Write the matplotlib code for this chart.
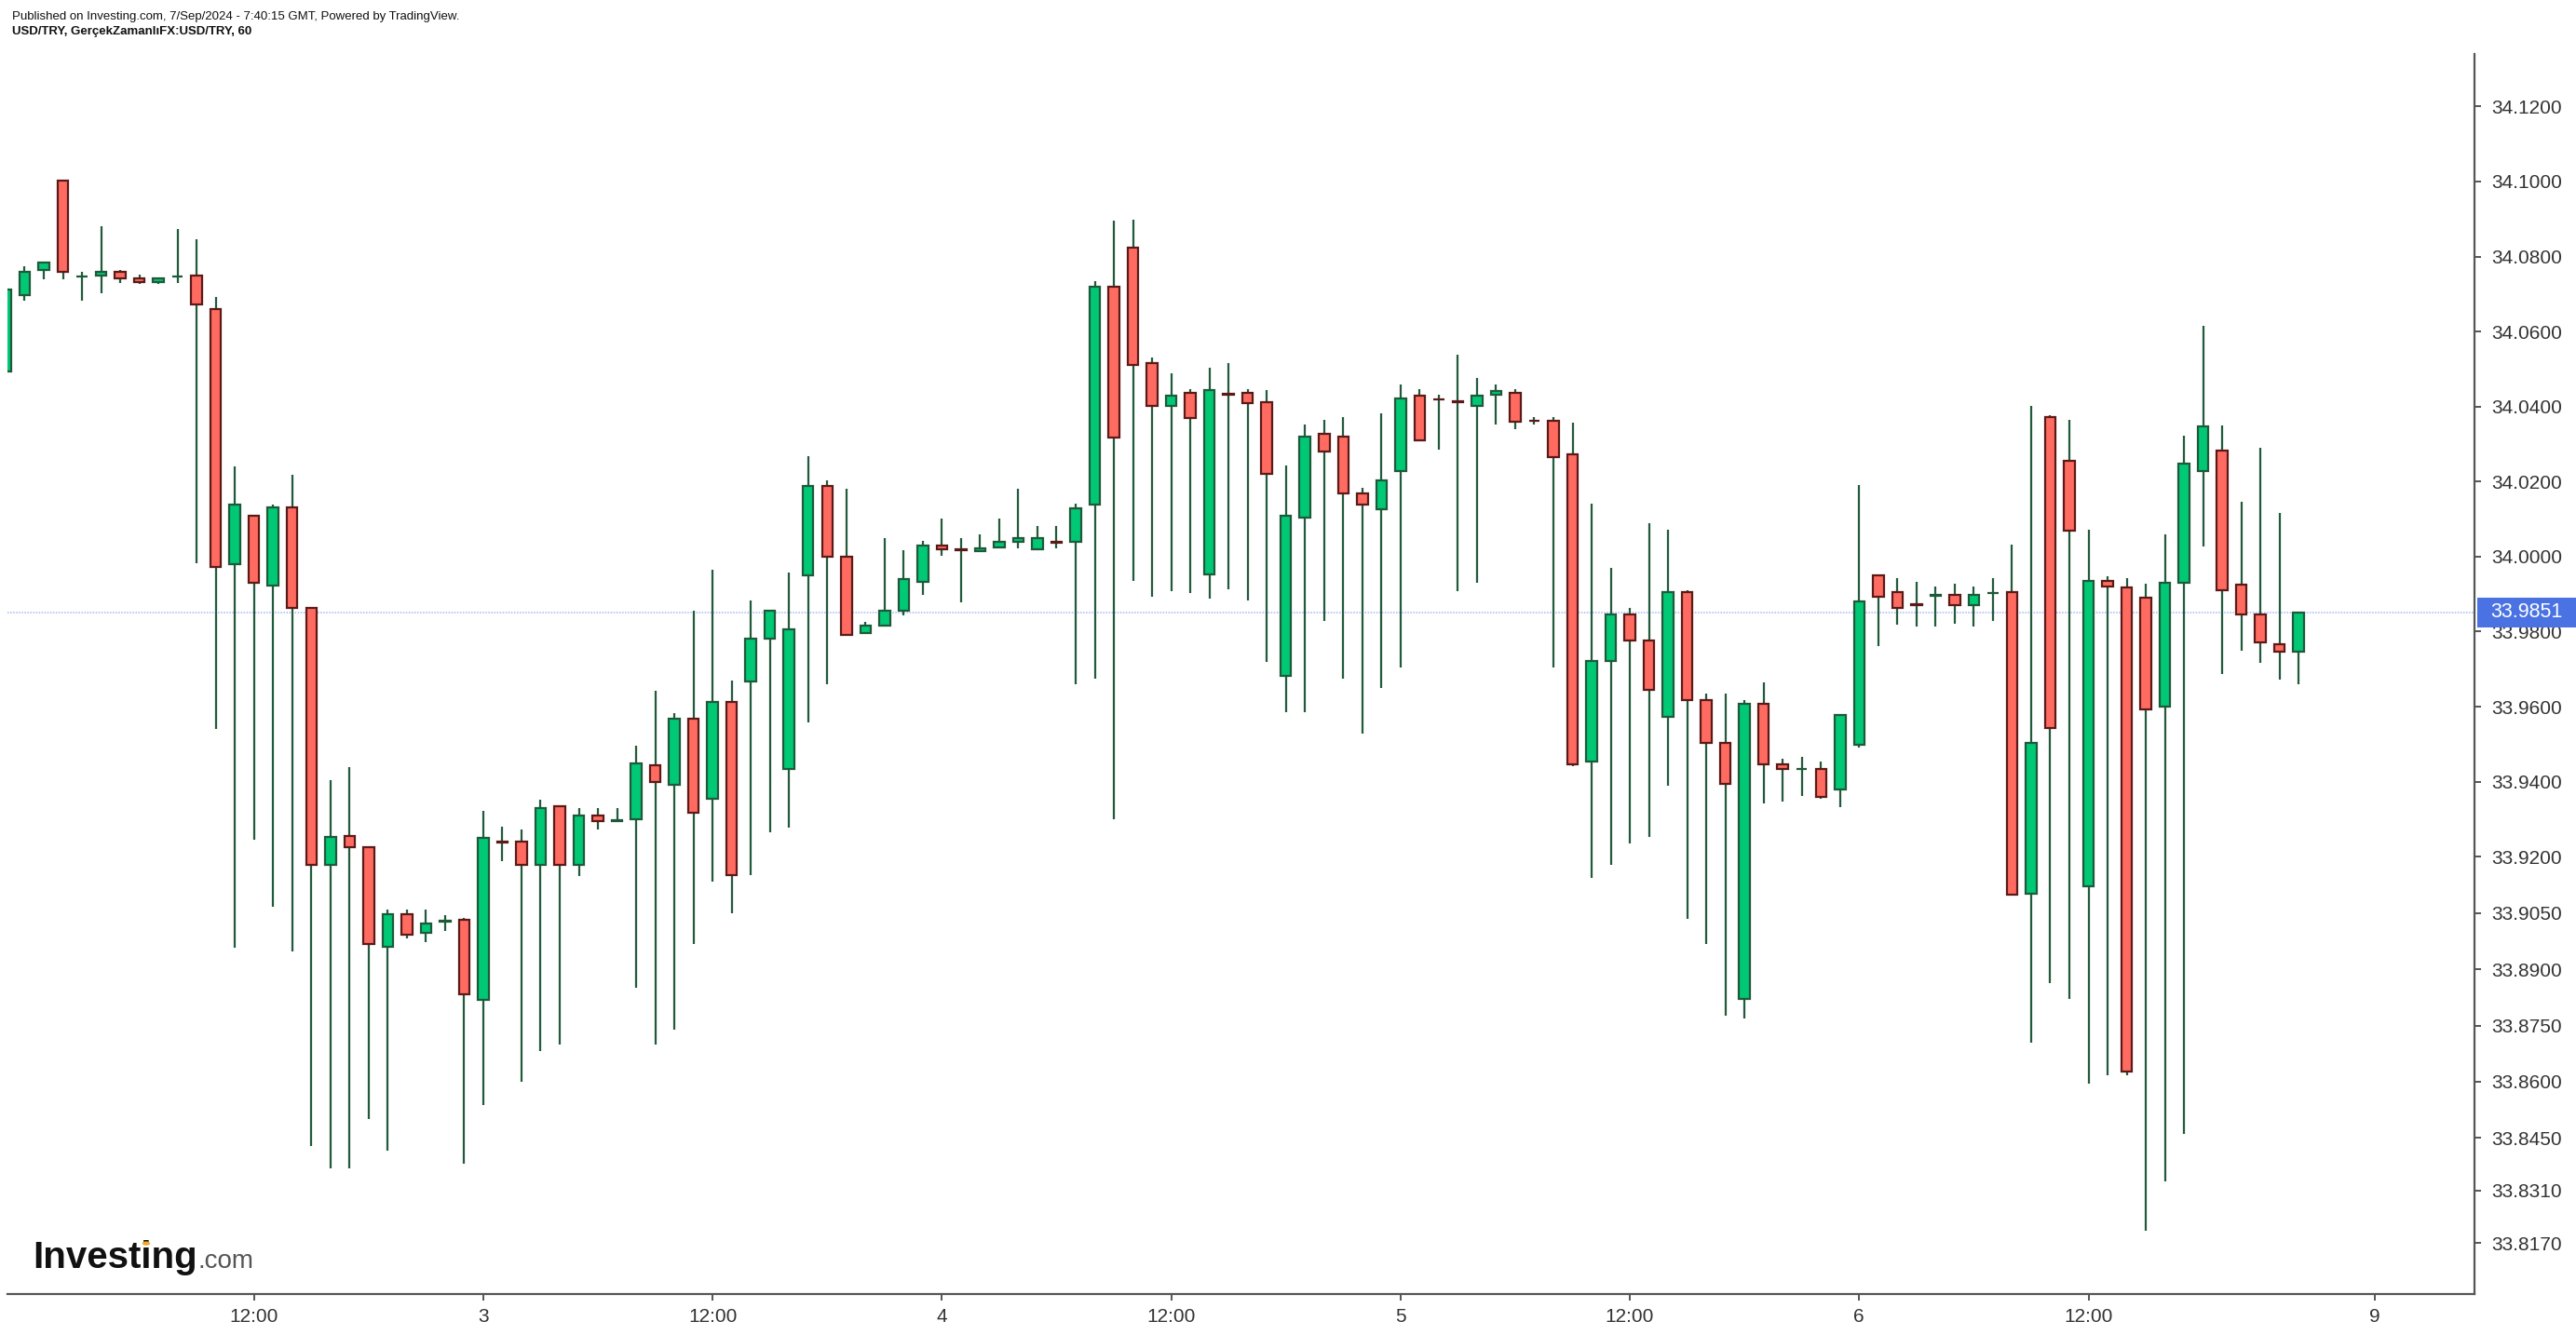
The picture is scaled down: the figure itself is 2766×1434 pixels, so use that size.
import matplotlib
matplotlib.use("Agg")
import matplotlib.pyplot as plt
import matplotlib.transforms as mtransforms
from matplotlib.patches import Circle, Rectangle

# hourly USD/TRY candles, Sep 1 23:00 .. Sep 6 23:00 (bar index = position)
opens = [34.0493, 34.0697, 34.0764, 34.1002, 34.0746, 34.0749, 34.0758, 34.0743, 34.0732, 34.0746,
         34.0749, 34.0660, 33.9979, 34.0108, 33.9923, 34.0132, 33.9864, 33.9179, 33.9255, 33.9225,
         33.8961, 33.9046, 33.8998, 33.9028, 33.9031, 33.8818, 33.9241, 33.9240, 33.9179, 33.9335,
         33.9179, 33.9310, 33.9296, 33.9299, 33.9444, 33.9392, 33.9568, 33.9355, 33.9612, 33.9666,
         33.9781, 33.9434, 33.9951, 34.0188, 33.9999, 33.9797, 33.9816, 33.9855, 33.9932, 34.0029,
         34.0020, 34.0014, 34.0025, 34.0040, 34.0019, 34.0040, 34.0040, 34.0138, 34.0719, 34.0823,
         34.0516, 34.0403, 34.0436, 33.9953, 34.0435, 34.0436, 34.0412, 33.9681, 34.0103, 34.0327,
         34.0321, 34.0168, 34.0127, 34.0227, 34.0430, 34.0420, 34.0414, 34.0403, 34.0432, 34.0436,
         34.0363, 34.0362, 34.0273, 33.9453, 33.9721, 33.9845, 33.9777, 33.9573, 33.9905, 33.9618,
         33.9503, 33.8822, 33.9607, 33.9447, 33.9433, 33.9434, 33.9379, 33.9499, 33.9949, 33.9905,
         33.9872, 33.9896, 33.9899, 33.9871, 33.9902, 33.9905, 33.9101, 34.0371, 34.0256, 33.9120,
         33.9934, 33.9919, 33.9890, 33.9601, 33.9931, 34.0227, 34.0282, 33.9925, 33.9845, 33.9766,
         33.9747]
highs = [34.0712, 34.0775, 34.0784, 34.1002, 34.0758, 34.0882, 34.0765, 34.0753, 34.0743, 34.0873,
         34.0845, 34.0693, 34.0240, 34.0108, 34.0138, 34.0219, 33.9864, 33.9405, 33.9438, 33.9225,
         33.9059, 33.9059, 33.9059, 33.9044, 33.9037, 33.9322, 33.9281, 33.9272, 33.9351, 33.9335,
         33.9329, 33.9329, 33.9329, 33.9497, 33.9642, 33.9583, 33.9855, 33.9966, 33.9670, 33.9882,
         33.9855, 33.9957, 34.0269, 34.0203, 34.0181, 33.9827, 34.0049, 34.0016, 34.0042, 34.0101,
         34.0049, 34.0060, 34.0101, 34.0181, 34.0081, 34.0081, 34.0140, 34.0734, 34.0895, 34.0899,
         34.0530, 34.0488, 34.0447, 34.0503, 34.0517, 34.0447, 34.0443, 34.0243, 34.0353, 34.0364,
         34.0373, 34.0184, 34.0382, 34.0458, 34.0447, 34.0432, 34.0538, 34.0477, 34.0458, 34.0447,
         34.0373, 34.0373, 34.0358, 34.0140, 33.9971, 33.9862, 34.0090, 34.0071, 33.9910, 33.9636,
         33.9636, 33.9618, 33.9664, 33.9460, 33.9466, 33.9453, 33.9577, 34.0190, 33.9949, 33.9942,
         33.9932, 33.9921, 33.9927, 33.9921, 33.9942, 34.0031, 34.0403, 34.0377, 34.0364, 34.0071,
         33.9947, 33.9942, 33.9927, 34.0060, 34.0323, 34.0616, 34.0349, 34.0145, 34.0290, 34.0116,
         33.9851]
lows = [34.0493, 34.0682, 34.0740, 34.0740, 34.0682, 34.0703, 34.0730, 34.0727, 34.0727, 34.0730,
        33.9982, 33.9540, 33.8957, 33.9244, 33.9066, 33.8948, 33.8429, 33.8368, 33.8370, 33.8500,
        33.8415, 33.8981, 33.8972, 33.9001, 33.8381, 33.8537, 33.9188, 33.8600, 33.8683, 33.8698,
        33.9149, 33.9273, 33.9296, 33.8851, 33.8698, 33.8740, 33.8966, 33.9133, 33.9049, 33.9151,
        33.9266, 33.9277, 33.9559, 33.9660, 33.9792, 33.9797, 33.9816, 33.9844, 33.9899, 34.0003,
        33.9879, 34.0014, 34.0025, 34.0021, 34.0019, 34.0023, 33.9660, 33.9675, 33.9299, 33.9934,
        33.9894, 33.9908, 33.9903, 33.9888, 33.9914, 33.9884, 33.9720, 33.9584, 33.9584, 33.9829,
        33.9675, 33.9527, 33.9651, 33.9705, 34.0310, 34.0286, 33.9908, 33.9929, 34.0351, 34.0340,
        34.0351, 33.9705, 33.9442, 33.9144, 33.9179, 33.9235, 33.9253, 33.9388, 33.9035, 33.8966,
        33.8777, 33.8768, 33.9342, 33.9347, 33.9362, 33.9355, 33.9333, 33.9492, 33.9762, 33.9818,
        33.9814, 33.9814, 33.9820, 33.9814, 33.9829, 33.9098, 33.8703, 33.8862, 33.8822, 33.8594,
        33.8618, 33.8618, 33.8202, 33.8335, 33.8461, 34.0027, 33.9688, 33.9749, 33.9716, 33.9673,
        33.9660]
closes = [34.0712, 34.0758, 34.0784, 34.0758, 34.0748, 34.0758, 34.0742, 34.0732, 34.0743, 34.0748,
          34.0673, 33.9973, 34.0138, 33.9931, 34.0132, 33.9864, 33.9179, 33.9253, 33.9225, 33.8966,
          33.9046, 33.8992, 33.9022, 33.9030, 33.8833, 33.9249, 33.9239, 33.9179, 33.9329, 33.9179,
          33.9310, 33.9296, 33.9298, 33.9449, 33.9399, 33.9568, 33.9318, 33.9612, 33.9151, 33.9781,
          33.9855, 33.9807, 34.0188, 33.9999, 33.9792, 33.9816, 33.9855, 33.9940, 34.0029, 34.0019,
          34.0018, 34.0023, 34.0040, 34.0049, 34.0049, 34.0038, 34.0129, 34.0719, 34.0317, 34.0510,
          34.0403, 34.0430, 34.0369, 34.0445, 34.0432, 34.0410, 34.0221, 34.0108, 34.0321, 34.0280,
          34.0168, 34.0138, 34.0203, 34.0421, 34.0310, 34.0418, 34.0412, 34.0430, 34.0442, 34.0360,
          34.0361, 34.0266, 33.9447, 33.9721, 33.9845, 33.9777, 33.9646, 33.9905, 33.9618, 33.9503,
          33.9394, 33.9607, 33.9447, 33.9434, 33.9435, 33.9360, 33.9577, 33.9881, 33.9894, 33.9864,
          33.9870, 33.9898, 33.9870, 33.9899, 33.9904, 33.9098, 33.9503, 33.9544, 34.0068, 33.9934,
          33.9921, 33.8626, 33.9592, 33.9931, 34.0247, 34.0347, 33.9910, 33.9845, 33.9771, 33.9747,
          33.9851]

last_price = 33.9851
x_tick_pos = [13, 25, 37, 49, 61, 73, 85, 97, 109, 124]
x_tick_lab = ["12:00", "3", "12:00", "4", "12:00", "5", "12:00", "6", "12:00", "9"]
y_ticks = [34.12, 34.10, 34.08, 34.06, 34.04, 34.02, 34.00, 33.98, 33.96, 33.94,
           33.92, 33.905, 33.89, 33.875, 33.86, 33.845, 33.831, 33.817]

UP, DOWN = "#00c875", "#ff6b61"
UP_EDGE, DOWN_EDGE = "#1e5a3a", "#5b1a17"
WICK = "#225a3c"
TXT = "#333333"

W, H = 2766, 1434
fig = plt.figure(figsize=(W / 100, H / 100), dpi=100)
ax = fig.add_axes([8 / W, 1 - 1390 / H, (2657 - 8) / W, (1390 - 58) / H])

xs = list(range(len(opens)))
ax.vlines(xs, lows, highs, color=WICK, lw=1.6, zorder=2)
bottoms = [min(o, c) for o, c in zip(opens, closes)]
heights = [max(abs(c - o), 0.00005) for o, c in zip(opens, closes)]
fills = [UP if c >= o else DOWN for o, c in zip(opens, closes)]
edges = [UP_EDGE if c >= o else DOWN_EDGE for o, c in zip(opens, closes)]
ax.bar(xs, heights, bottom=bottoms, width=0.56, color=fills, edgecolor=edges, linewidth=1.6, zorder=3)

ax.set_xlim(0.1, 129.2)
ax.set_ylim(33.8034, 34.1340)

# last price line + label box on the price scale
ax.axhline(last_price, color="#a4b8f4", lw=1.1, ls=(0, (1, 1)), zorder=1)
trans = mtransforms.blended_transform_factory(ax.transAxes, ax.transData)
box_w = (W - 2659) / (2657 - 8)
box_h = 0.0040
ax.add_patch(Rectangle((1.001, last_price - box_h), box_w, 2 * box_h, transform=trans,
                       fc="#4a72e3", ec="none", clip_on=False, zorder=6))
ax.text(1.001 + box_w / 2, last_price, "33.9851", transform=trans, ha="center", va="center",
        color="white", fontsize=15.5, family="Liberation Sans", zorder=7, clip_on=False)

for s in ("top", "left"):
    ax.spines[s].set_visible(False)
for s in ("right", "bottom"):
    ax.spines[s].set_color("#555555")
    ax.spines[s].set_linewidth(1.6)

ax.yaxis.tick_right()
ax.set_yticks(y_ticks)
ax.set_yticklabels([f"{v:.4f}" for v in y_ticks])
ax.set_xticks(x_tick_pos)
ax.set_xticklabels(x_tick_lab)
ax.tick_params(axis="both", colors="#555555", labelcolor=TXT, labelsize=15, length=5, width=1.4)
ax.tick_params(axis="y", pad=8)
ax.tick_params(axis="x", pad=6)
for lab in ax.get_xticklabels() + ax.get_yticklabels():
    lab.set_family("Liberation Sans")

# header
fig.text(13 / W, 1 - 18 / H, "Published on Investing.com, 7/Sep/2024 - 7:40:15 GMT, Powered by TradingView.",
         fontsize=9.5, family=["Liberation Sans Narrow", "Liberation Sans"], color="#111111", va="center")
fig.text(13 / W, 1 - 34 / H, "USD/TRY, GerçekZamanlıFX:USD/TRY, 60",
         fontsize=9.5, family=["Liberation Sans Narrow", "Liberation Sans"], weight="bold",
         color="#111111", va="center")

# logo: "Investing" bold + ".com" grey, orange dot on the second i
logo_kw = dict(fontsize=29, weight="bold", family="Liberation Sans", va="baseline")
x0, base = 35 / W, 1 - 1362 / H
logo = fig.text(x0, base, "Investing", color="#111111", **logo_kw)
fig.canvas.draw()
r = fig.canvas.get_renderer()
ext = lambda s: fig.text(x0, base, s, alpha=0, **logo_kw).get_window_extent(r)
e_pre, e_i = ext("Invest"), ext("Investi")
dot_x = (e_pre.x1 + e_i.x1) / 2 / W
dot_y = base + 0.655 * 29 * 100 / 72 / H
fig.patches.append(Circle((dot_x, dot_y), 4.2 / W, transform=fig.transFigure,
                          fc="#f5a623", ec="none", zorder=10))
end_x = logo.get_window_extent(r).x1
fig.text(end_x / W + 1 / W, base, ".com", fontsize=20, family="Liberation Sans", color="#555555", va="baseline")

fig.savefig("out.png", dpi=100, facecolor="white")
